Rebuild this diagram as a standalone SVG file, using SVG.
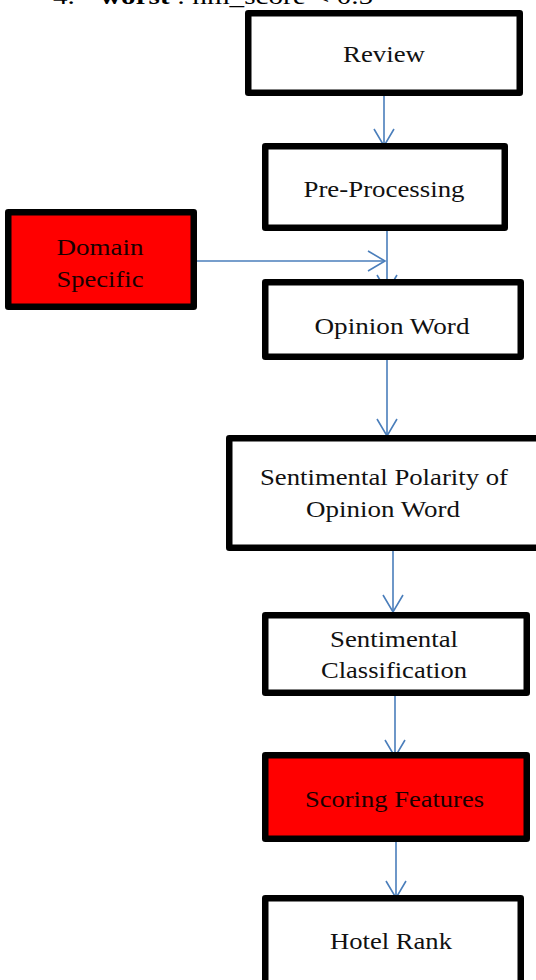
<svg xmlns="http://www.w3.org/2000/svg" width="536" height="980" viewBox="0 0 536 980">
<defs>
<style>
.box{stroke:#000;stroke-width:6.5;stroke-linejoin:round}
.w{fill:#fff}
.r{fill:#ff0000}
.t{font-family:"Liberation Serif","Times New Roman",serif;font-size:23px;fill:#111;text-anchor:middle}
.tr{fill:#1a0000}
.c{stroke:#4a7ebb;stroke-width:1.6;fill:none}
</style>
<marker id="ah" viewBox="0 0 20 22" refX="18" refY="11" markerWidth="20" markerHeight="22" markerUnits="userSpaceOnUse" orient="auto">
<path d="M1,1 L18,11 L1,21" fill="none" stroke="#4a7ebb" stroke-width="1.6"/>
</marker>
</defs>
<rect width="536" height="980" fill="#fff"/>
<text x="53" y="4" font-family="'Liberation Serif','Times New Roman',serif" font-size="23" fill="#000" textLength="295" lengthAdjust="spacingAndGlyphs">4.<tspan x="100" font-weight="bold">worst</tspan> : hm_score &lt; 0.5</text>
<g id="connectors">
<line class="c" x1="384" y1="96" x2="384" y2="146" marker-end="url(#ah)"/>
<line class="c" x1="387" y1="231" x2="387" y2="292" marker-end="url(#ah)"/>
<line class="c" x1="197" y1="261" x2="385" y2="261" marker-end="url(#ah)"/>
<line class="c" x1="387" y1="360" x2="387" y2="436" marker-end="url(#ah)"/>
<line class="c" x1="393" y1="551" x2="393" y2="612" marker-end="url(#ah)"/>
<line class="c" x1="395" y1="696" x2="395" y2="757" marker-end="url(#ah)"/>
<line class="c" x1="396" y1="842" x2="396" y2="898" marker-end="url(#ah)"/>
</g>
<g id="review">
<rect class="box w" x="248.25" y="13.25" width="271.5" height="79.5"/>
<text class="t" x="384" y="62" textLength="82" lengthAdjust="spacingAndGlyphs">Review</text>
</g>
<g id="preprocessing">
<rect class="box w" x="265.25" y="146.25" width="239.5" height="81.5"/>
<text class="t" x="384" y="197" textLength="161" lengthAdjust="spacingAndGlyphs">Pre-Processing</text>
</g>
<g id="domain">
<rect class="box r" x="8.25" y="212.25" width="185.5" height="94.5"/>
<text class="t tr" x="100" y="255" textLength="87" lengthAdjust="spacingAndGlyphs">Domain</text>
<text class="t tr" x="100" y="287" textLength="87" lengthAdjust="spacingAndGlyphs">Specific</text>
</g>
<g id="opinion">
<rect class="box w" x="265.25" y="282.25" width="255.5" height="74.5"/>
<text class="t" x="392" y="334" textLength="155" lengthAdjust="spacingAndGlyphs">Opinion Word</text>
</g>
<g id="polarity">
<rect class="box w" x="229.25" y="438.25" width="310" height="109.5"/>
<text class="t" x="384" y="485" textLength="248" lengthAdjust="spacingAndGlyphs">Sentimental Polarity of</text>
<text class="t" x="383" y="517" textLength="154" lengthAdjust="spacingAndGlyphs">Opinion Word</text>
</g>
<g id="classification">
<rect class="box w" x="265.25" y="615.25" width="261.5" height="77.5"/>
<text class="t" x="394" y="647" textLength="128" lengthAdjust="spacingAndGlyphs">Sentimental</text>
<text class="t" x="394" y="678" textLength="146" lengthAdjust="spacingAndGlyphs">Classification</text>
</g>
<g id="scoring">
<rect class="box r" x="265.25" y="755.25" width="261.5" height="83.5"/>
<text class="t tr" x="394.5" y="807" textLength="179" lengthAdjust="spacingAndGlyphs">Scoring Features</text>
</g>
<g id="hotelrank">
<rect class="box w" x="265.25" y="898.25" width="255.5" height="100"/>
<text class="t" x="391" y="949" textLength="122" lengthAdjust="spacingAndGlyphs">Hotel Rank</text>
</g>
</svg>
